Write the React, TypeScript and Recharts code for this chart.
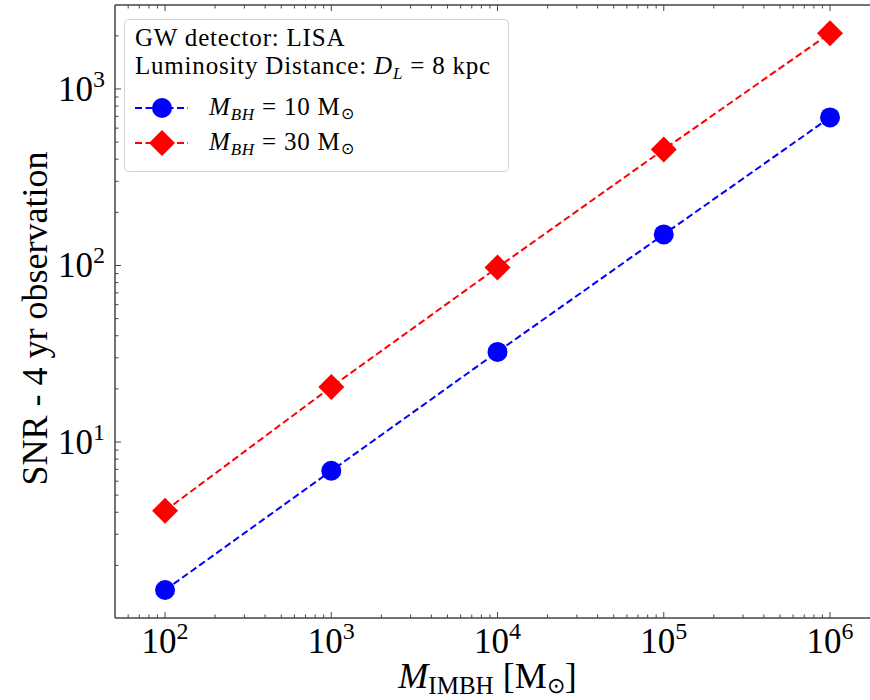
import React from 'react';
import { LineChart, Line, XAxis, YAxis } from 'recharts';

// IMBH mass [Msun] and 4-yr LISA SNR for the two stellar BH masses
const massImbh = [1e2, 1e3, 1e4, 1e5, 1e6];
const snrBh10 = [1.45, 6.87, 32.4, 150, 690];
const snrBh30 = [4.08, 20.5, 97.5, 454, 2070];

// axis ranges and ticks (log axes)
const xDomain = [50, 1.74e6];
const yDomain = [1.007, 2990];
const xMajorTicks = [1e2, 1e3, 1e4, 1e5, 1e6];
const xMinorTicks = [
  60, 70, 80, 90,
  200, 300, 400, 500, 600, 700, 800, 900,
  2000, 3000, 4000, 5000, 6000, 7000, 8000, 9000,
  20000, 30000, 40000, 50000, 60000, 70000, 80000, 90000,
  200000, 300000, 400000, 500000, 600000, 700000, 800000, 900000,
];
const yMajorTicks = [10, 100, 1000];
const yMinorTicks = [
  2, 3, 4, 5, 6, 7, 8, 9,
  20, 30, 40, 50, 60, 70, 80, 90,
  200, 300, 400, 500, 600, 700, 800, 900,
  2000,
];

const data = massImbh.map((m, i) => ({ m, bh10: snrBh10[i], bh30: snrBh30[i] }));

const FONT = '"Liberation Serif", "Times New Roman", serif';
const AXIS = '#444';
const BLUE = '#0000ff';
const RED = '#ff0000';
const X_MARGIN = 0;
const Y_MARGIN = 10;

const isMajor = (v: number) => Math.abs(Math.log10(v) - Math.round(Math.log10(v))) < 1e-6;
const expOf = (v: number) => Math.round(Math.log10(v));

const PowLabel = ({ x, y, v, anchor }: any) => (
  <text x={x} y={y} textAnchor={anchor} style={{ fontFamily: FONT }} fontSize={35} fill="#000">
    10<tspan dy={-14} fontSize={24}>{expOf(v)}</tspan>
  </text>
);

const BottomTick = ({ x, y, payload }: any) => {
  const major = isMajor(payload.value);
  const edge = y - X_MARGIN;
  return (
    <g>
      <line x1={x} x2={x} y1={edge} y2={edge - (major ? 6 : 3.5)} stroke={AXIS} strokeWidth={1} />
      {major && <PowLabel x={x} y={edge + 35} v={payload.value} anchor="middle" />}
    </g>
  );
};

const TopTick = ({ x, y, payload }: any) => {
  const major = isMajor(payload.value);
  return <line x1={x} x2={x} y1={y} y2={y + (major ? 6 : 3.5)} stroke={AXIS} strokeWidth={1} />;
};

const LeftTick = ({ x, y, payload }: any) => {
  const major = isMajor(payload.value);
  const edge = x + Y_MARGIN;
  return (
    <g>
      <line x1={edge} x2={edge + (major ? 6 : 3.5)} y1={y} y2={y} stroke={AXIS} strokeWidth={1} />
      {major && <PowLabel x={x} y={y + 12} v={payload.value} anchor="end" />}
    </g>
  );
};

const CircleDot = ({ cx, cy }: any) => <circle cx={cx} cy={cy} r={10} fill={BLUE} />;

const DiamondDot = ({ cx, cy }: any) => (
  <polygon
    points={`${cx},${cy - 13} ${cx + 13},${cy} ${cx},${cy + 13} ${cx - 13},${cy}`}
    fill={RED}
  />
);

const XLabel = ({ viewBox }: any) => {
  const cx = viewBox.x + viewBox.width / 2 - 5;
  return (
    <text x={cx} y={688} textAnchor="middle" style={{ fontFamily: FONT }} fontSize={36} fill="#000">
      <tspan fontStyle="italic">M</tspan>
      <tspan fontSize={25} dy={6}>IMBH</tspan>
      <tspan dy={-6}> [M</tspan>
      <tspan fontSize={22} dy={5}>⊙</tspan>
      <tspan dy={-5}>]</tspan>
    </text>
  );
};

const YLabel = ({ viewBox }: any) => {
  const cy = viewBox.y + viewBox.height / 2 + 7;
  return (
    <text
      x={47}
      y={cy}
      transform={`rotate(-90, 47, ${cy})`}
      textAnchor="middle"
      style={{ fontFamily: FONT }}
      fontSize={36}
      fill="#000"
    >
      SNR - 4 yr observation
    </text>
  );
};

const legendText = { fontFamily: FONT, fontSize: 25, letterSpacing: 0.8 };

const LegendBox = () => (
  <div
    style={{
      position: 'absolute',
      left: 124,
      top: 19,
      width: 385,
      height: 153,
      boxSizing: 'border-box',
      border: '1px solid #d0d0d0',
      borderRadius: 5,
      background: 'rgba(255,255,255,0.85)',
    }}
  >
    <svg width={385} height={153} style={{ position: 'absolute', left: -1, top: -1 }}>
      <text x={11} y={27} style={legendText} fill="#000">GW detector: LISA</text>
      <text x={11} y={55} style={legendText} fill="#000">
        Luminosity Distance:{'  '}
        <tspan fontStyle="italic">D</tspan>
        <tspan fontSize={17} dy={5} fontStyle="italic">L</tspan>
        <tspan dy={-5}> = 8 kpc</tspan>
      </text>
      <line x1={11} x2={64} y1={89} y2={89} stroke={BLUE} strokeWidth={2} strokeDasharray="7 3.5" />
      <circle cx={38} cy={89} r={10} fill={BLUE} />
      <text x={85} y={96} style={legendText} fill="#000">
        <tspan fontStyle="italic">M</tspan>
        <tspan fontSize={17} dy={5} fontStyle="italic">BH</tspan>
        <tspan dy={-5}> = 10 M</tspan>
        <tspan fontSize={16} dy={4}>⊙</tspan>
      </text>
      <line x1={11} x2={64} y1={124} y2={124} stroke={RED} strokeWidth={2} strokeDasharray="7 3.5" />
      <polygon points="38,111 51,124 38,137 25,124" fill={RED} />
      <text x={85} y={131} style={legendText} fill="#000">
        <tspan fontStyle="italic">M</tspan>
        <tspan fontSize={17} dy={5} fontStyle="italic">BH</tspan>
        <tspan dy={-5}> = 30 M</tspan>
        <tspan fontSize={16} dy={4}>⊙</tspan>
      </text>
    </svg>
  </div>
);

export default function App() {
  const xTicks = [...xMinorTicks, ...xMajorTicks].sort((a, b) => a - b);
  const yTicks = [...yMinorTicks, ...yMajorTicks].sort((a, b) => a - b);
  return (
    <div style={{ position: 'absolute', left: 0, top: 0, width: 870, height: 700, background: '#fff' }}>
      <LineChart width={870} height={700} data={data} margin={{ top: 0, right: 0, bottom: 0, left: 0 }}>
        <XAxis
          dataKey="m"
          type="number"
          scale="log"
          domain={xDomain}
          allowDataOverflow
          ticks={xTicks}
          interval={0}
          height={82}
          tickSize={0}
          tickMargin={X_MARGIN}
          tick={<BottomTick />}
          tickLine={false}
          axisLine={{ stroke: AXIS, strokeWidth: 1.5 }}
          label={<XLabel />}
        />
        <XAxis
          xAxisId="top"
          orientation="top"
          dataKey="m"
          type="number"
          scale="log"
          domain={xDomain}
          allowDataOverflow
          ticks={xTicks}
          interval={0}
          height={5}
          tickSize={0}
          tickMargin={0}
          tick={<TopTick />}
          tickLine={false}
          axisLine={{ stroke: AXIS, strokeWidth: 1.5 }}
        />
        <YAxis
          type="number"
          scale="log"
          domain={yDomain}
          allowDataOverflow
          ticks={yTicks}
          interval={0}
          width={115}
          tickSize={0}
          tickMargin={Y_MARGIN}
          tick={<LeftTick />}
          tickLine={false}
          axisLine={{ stroke: AXIS, strokeWidth: 1.5 }}
          label={<YLabel />}
        />
        <Line
          dataKey="bh10"
          stroke={BLUE}
          strokeWidth={2}
          strokeDasharray="7 3.5"
          dot={<CircleDot />}
          activeDot={false}
          isAnimationActive={false}
        />
        <Line
          dataKey="bh30"
          stroke={RED}
          strokeWidth={2}
          strokeDasharray="7 3.5"
          dot={<DiamondDot />}
          activeDot={false}
          isAnimationActive={false}
        />
      </LineChart>
      <LegendBox />
    </div>
  );
}
